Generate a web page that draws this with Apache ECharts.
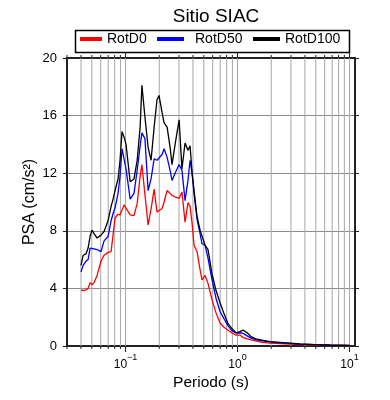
<!DOCTYPE html>
<html><head><meta charset="utf-8">
<script src="https://cdn.jsdelivr.net/npm/echarts@6/dist/echarts.min.js"></script>
<style>html,body{margin:0;padding:0;background:#fff}#c{width:390px;height:400px}</style>
</head><body><div id="c"></div>
<script>
const titleText = 'Sitio SIAC';
const seriesNames = ['RotD0', 'RotD50', 'RotD100'];
const periods = [0.040,0.0418,0.0444,0.0463,0.0482,0.0502,0.0523,0.0557,0.0604,0.0643,
  0.0698,0.0743,0.0774,0.0806,0.0857,0.0893,0.0930,0.0970,0.101,0.110,
  0.119,0.127,0.135,0.140,0.149,0.159,0.169,0.180,0.191,0.199,
  0.212,0.221,0.235,0.250,0.260,0.277,0.301,0.319,0.340,0.361,
  0.377,0.393,0.409,0.435,0.463,0.482,0.513,0.545,0.592,0.643,
  0.698,0.757,0.823,0.893,0.970,1.05,1.12,1.22,1.32,1.46,
  1.66,1.95,2.39,2.94,3.61,4.92,6.70,10.0];
const rotD100 = [5.6,6.3,6.4,6.8,7.6,8.05,7.8,7.5,7.7,7.95,
  8.7,9.7,10.2,10.8,11.6,12.9,14.9,14.5,14.0,11.4,
  11.6,12.9,15.2,18.1,15.9,13.8,12.9,15.2,17.1,17.4,
  16.2,15.5,15.2,13.8,12.6,14.0,15.7,12.3,14.1,13.6,
  13.9,12.0,10.8,9.0,8.05,8.0,7.0,6.7,5.0,3.85,
  3.0,2.25,1.55,1.2,0.92,1.0,1.1,0.92,0.65,0.5,
  0.4,0.3,0.25,0.2,0.15,0.1,0.07,0.05];
const rotD50 = [5.15,5.6,5.9,6.0,6.8,6.8,6.75,6.7,6.55,7.3,
  7.6,8.7,9.2,9.6,10.6,11.8,13.7,13.0,12.3,10.2,
  10.6,12.2,13.9,14.8,14.4,10.8,11.6,13.0,12.9,12.85,
  13.3,13.7,13.1,12.2,11.5,12.0,12.6,12.2,10.1,11.5,
  12.9,12.0,10.6,8.8,7.8,7.1,7.0,6.1,4.6,3.3,
  2.4,1.9,1.4,1.05,0.9,0.92,0.88,0.7,0.55,0.45,
  0.35,0.28,0.22,0.18,0.13,0.09,0.06,0.04];
const rotD0 = [3.9,3.85,3.9,4.0,4.4,4.25,4.4,4.9,5.9,6.3,
  6.5,6.55,6.6,8.9,9.15,9.1,9.1,9.8,9.9,9.1,
  9.05,9.9,11.8,12.6,10.5,8.4,9.5,10.9,9.3,9.4,
  9.55,10.0,10.8,10.6,10.45,10.35,10.25,10.7,8.6,9.95,
  9.7,8.5,7.0,6.55,5.3,4.6,4.9,4.35,3.2,2.3,
  1.6,1.3,1.1,0.9,0.76,0.76,0.6,0.5,0.42,0.35,
  0.25,0.2,0.17,0.13,0.1,0.07,0.05,0.03];
const gridPeriods = [0.03,0.04,0.05,0.06,0.07,0.08,0.09,0.1,0.2,0.3,0.4,0.5,0.6,0.7,0.8,0.9,1,2,3,4,5,6,7,8,9,10];
const yTicks = [0,4,8,12,16,20];
const xMin = 0.03, xMax = 11.2, yMin = 0, yMax = 20;

const FONT = '"Liberation Sans", Arial, Helvetica, sans-serif';
const chart = echarts.init(document.getElementById('c'), null, {renderer: 'canvas'});

function isDecade(v){ const l = Math.log10(v); return Math.abs(l - Math.round(l)) < 1e-6; }
function decadeLabel(v){
  if (!isDecade(v)) return '';
  const e = Math.round(Math.log10(v));
  return '{b|10}{s|' + (e < 0 ? '\u2212' + (-e) : e) + '}';
}

const colors = ['#ff0000', '#0000ff', '#000000'];
const dataSets = [rotD0, rotD50, rotD100];

const frameAxisLine = {show: true, onZero: false, lineStyle: {color: '#222', width: 2}};

const option = {
  animation: false,
  backgroundColor: '#fff',
  textStyle: {fontFamily: FONT},
  title: {text: titleText, left: 211, top: 2, textAlign: 'center',
    textStyle: {fontFamily: FONT, fontSize: 19, fontWeight: 'normal', color: '#000'}},
  legend: [
    {data: [seriesNames[0]], left: 80, top: 32, padding: 0, itemWidth: 22, itemHeight: 4, icon: 'rect', selectedMode: false,
      textStyle: {fontFamily: FONT, fontSize: 14, color: '#000'}},
    {data: [seriesNames[1]], left: 157, top: 32, padding: 0, itemWidth: 27, itemHeight: 4, icon: 'rect', selectedMode: false,
      textStyle: {fontFamily: FONT, fontSize: 14, color: '#000', padding: [0,0,0,6]}},
    {data: [seriesNames[2]], left: 253, top: 32, padding: 0, itemWidth: 27, itemHeight: 4, icon: 'rect', selectedMode: false,
      textStyle: {fontFamily: FONT, fontSize: 14, color: '#000'}}
  ],
  graphic: [{type: 'rect', left: 73, top: 28, shape: {width: 274, height: 22},
    style: {fill: 'none', stroke: '#000', lineWidth: 1.5}, silent: true}],
  grid: {left: 67, right: 35, top: 58, bottom: 54, containLabel: false},
  xAxis: [
    {type: 'log', logBase: 10, min: xMin, max: xMax, position: 'bottom',
      name: 'Periodo (s)', nameLocation: 'middle', nameGap: 29, nameMoveOverlap: false,
      nameTextStyle: {fontFamily: FONT, fontSize: 15.5, color: '#000'},
      axisLine: frameAxisLine, axisTick: {show: false}, splitLine: {show: false},
      axisLabel: {margin: 7, formatter: decadeLabel, showMinLabel: false, showMaxLabel: false,
        rich: {b: {fontFamily: FONT, fontSize: 12, color: '#000', verticalAlign: 'bottom', lineHeight: 18},
               s: {fontFamily: FONT, fontSize: 9, color: '#000', verticalAlign: 'top', lineHeight: 12}}}},
    {type: 'log', logBase: 10, min: xMin, max: xMax, position: 'top',
      axisLine: frameAxisLine, axisTick: {show: false}, splitLine: {show: false}, axisLabel: {show: false}}
  ],
  yAxis: [
    {type: 'value', min: yMin, max: yMax, interval: 4, position: 'left',
      name: 'PSA (cm/s\u00B2)', nameLocation: 'middle', nameGap: 29, nameMoveOverlap: false,
      nameTextStyle: {fontFamily: FONT, fontSize: 16, color: '#000'},
      axisLine: frameAxisLine,
      axisTick: {show: true, length: 4, inside: false, lineStyle: {color: '#222', width: 1}},
      axisLabel: {margin: 10, fontFamily: FONT, fontSize: 13, color: '#000'},
      splitLine: {show: true, lineStyle: {color: '#8c8c8c', width: 1}}},
    {type: 'value', min: yMin, max: yMax, interval: 4, position: 'right',
      axisLine: frameAxisLine,
      axisTick: {show: true, length: 4, inside: false, lineStyle: {color: '#222', width: 1}},
      axisLabel: {show: false}, splitLine: {show: false}}
  ],
  series: [
    {type: 'custom', name: 'grid', silent: true, z: 1, clip: false,
      data: gridPeriods.map(v => [v, yMin]),
      encode: {x: 0, y: 1},
      renderItem: function(params, api){
        const x = api.value(0);
        const bot = api.coord([x, yMin]);
        const top = api.coord([x, yMax]);
        const major = isDecade(x);
        const len = major ? 6 : 3;
        const children = [
          {type: 'line', shape: {x1: bot[0], y1: bot[1], x2: bot[0], y2: bot[1] + len}, style: {stroke: '#222', lineWidth: 1}},
          {type: 'line', shape: {x1: top[0], y1: top[1], x2: top[0], y2: top[1] - len}, style: {stroke: '#222', lineWidth: 1}}
        ];
        if (x > xMin) children.unshift({type: 'line', shape: {x1: bot[0], y1: bot[1], x2: top[0], y2: top[1]}, style: {stroke: '#a6a6a6', lineWidth: 1}});
        return {type: 'group', children: children};
      }}
  ].concat(seriesNames.map((n, i) => ({
    type: 'line', name: n, z: 3, showSymbol: false, symbol: 'none',
    data: periods.map((p, k) => [p, dataSets[i][k]]),
    lineStyle: {color: colors[i], width: 1.3}, itemStyle: {color: colors[i]}
  })))
};
chart.setOption(option);
</script></body></html>
